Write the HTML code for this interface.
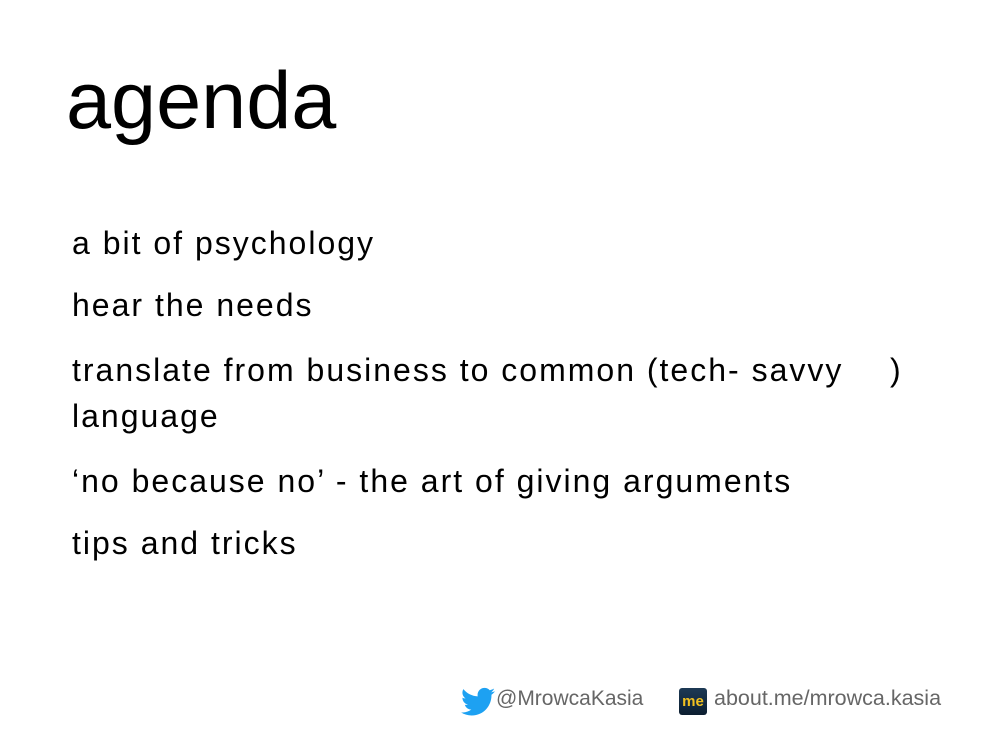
<!DOCTYPE html>
<html><head><meta charset="utf-8"><style>
body{margin:0;width:992px;height:744px;background:#fff;position:relative;overflow:hidden;font-family:"Liberation Sans",sans-serif;}
.t{position:absolute;left:66px;top:61px;font-size:81px;color:#000;line-height:1;}
.l{position:absolute;left:72px;font-size:32px;letter-spacing:2px;color:#000;line-height:1;white-space:nowrap;}
.f{position:absolute;top:688px;font-size:22px;color:#666;line-height:1;white-space:nowrap;}
</style></head><body>
<div class="t">agenda</div>
<div class="l" style="top:227px">a bit of psychology</div>
<div class="l" style="top:289px">hear the needs</div>
<div class="l" style="top:354px">translate from business to common (tech- savvy<span style="position:absolute;left:818px">)</span></div>
<div class="l" style="top:400px">language</div>
<div class="l" style="top:465px">‘no because no’ - the art of giving arguments</div>
<div class="l" style="top:527px">tips and tricks</div>
<svg style="position:absolute;left:461px;top:687px" width="34" height="30" viewBox="0 0 24 20"><path fill="#1da1f2" d="M24 2.4c-.9.4-1.8.6-2.8.8 1-.6 1.8-1.6 2.2-2.7-1 .6-2 1-3.1 1.2C19.4.7 18.1 0 16.6 0c-2.7 0-4.9 2.2-4.9 4.9 0 .4 0 .8.1 1.1C7.7 5.8 4.100 3.9 1.7.9c-.4.7-.7 1.6-.7 2.5 0 1.7.9 3.2 2.2 4.1-.8 0-1.6-.2-2.2-.6v.1c0 2.4 1.7 4.4 3.9 4.8-.4.1-.8.2-1.3.2-.3 0-.6 0-.9-.1.6 2 2.4 3.4 4.6 3.4-1.700 1.3-3.8 2.1-6.1 2.1-.4 0-.8 0-1.2-.1 2.2 1.4 4.8 2.2 7.5 2.2 9.1 0 14-7.5 14-14v-.6c1-.7 1.8-1.6 2.5-2.5z"/></svg>
<div class="f" style="left:496px;font-size:21px">@MrowcaKasia</div>
<div style="position:absolute;left:679px;top:688px;width:28px;height:27px;border-radius:3px;background:linear-gradient(#1d3a55,#0c1e30);color:#f0c020;font-size:15px;font-weight:bold;text-align:center;line-height:27px">me</div>
<div class="f" style="left:714px;font-size:21.5px">about.me/mrowca.kasia</div>
</body></html>
